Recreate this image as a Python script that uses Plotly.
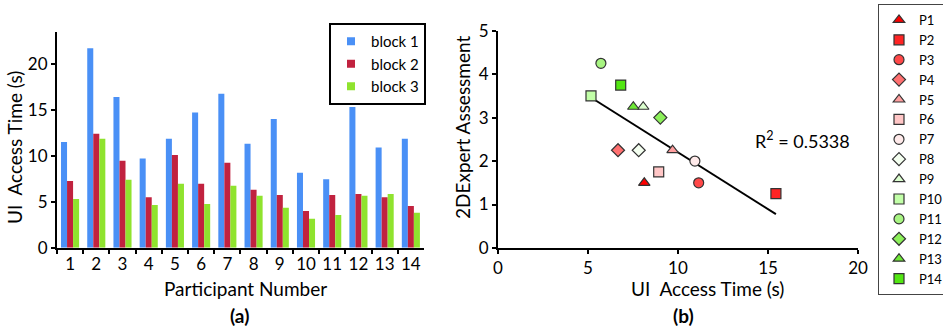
import numpy as np
import plotly.graph_objects as go

# ---------------- data ----------------
participants = [str(i) for i in range(1, 15)]
block1 = [11.5, 21.7, 16.4, 9.7, 11.85, 14.7, 16.75, 11.3, 14.0, 8.15, 7.45, 15.3, 10.9, 11.85]
block2 = [7.25, 12.4, 9.45, 5.5, 10.1, 6.95, 9.25, 6.3, 5.75, 4.0, 5.75, 5.85, 5.5, 4.55]
block3 = [5.3, 11.85, 7.4, 4.65, 6.95, 4.75, 6.75, 5.65, 4.35, 3.15, 3.55, 5.65, 5.85, 3.8]
block_names = ["block 1", "block 2", "block 3"]

p_labels = ["P%d" % i for i in range(1, 15)]
access_time = [8.13, 15.44, 11.15, 6.67, 9.7, 8.93, 10.94, 7.82, 8.07, 5.17, 5.72, 9.02, 7.52, 6.82]
expert_score = [1.5, 1.25, 1.5, 2.25, 2.25, 1.75, 2.0, 2.25, 3.25, 3.5, 4.25, 3.0, 3.25, 3.75]
r2_text = "R<sup>2</sup> = 0.5338"

bar_ticks = [0, 5, 10, 15, 20]

# ---------------- styles ----------------
block_colors = ["#4a90f6", "#c1223f", "#8fe32e"]
p_symbols = ["triangle-up", "square", "circle", "diamond"] * 4
p_colors = ["#ff0000", "#ff2424", "#ff4848", "#ff7070", "#ff9e9e", "#ffc6c6", "#ffeaea",
            "#f4fff0", "#dcffcf", "#c2ffa8", "#a8f582", "#8cf05a", "#6ee935", "#52e612"]
FONT = "Lato"

fig = go.Figure()

# regression line (least squares through the scatter data), drawn first so markers sit on top
ax = np.array(access_time)
ay = np.array(expert_score)
slope, intercept = np.polyfit(ax, ay, 1)
lx = np.array([ax.min(), ax.max()])
fig.add_trace(go.Scatter(x=lx, y=slope * lx + intercept, mode="lines", xaxis="x2", yaxis="y2",
                         line=dict(color="black", width=2), showlegend=False, hoverinfo="skip"))

for name, vals, col in zip(block_names, [block1, block2, block3], block_colors):
    fig.add_trace(go.Bar(x=participants, y=vals, name=name, marker=dict(color=col, line=dict(width=0)),
                         xaxis="x", yaxis="y", showlegend=False))
    # legend entry with a small square swatch
    fig.add_trace(go.Scatter(x=[None], y=[None], mode="markers", name=name, xaxis="x", yaxis="y",
                             marker=dict(symbol="square", size=8, color=col), legend="legend"))

for i in range(len(p_labels)):
    fig.add_trace(go.Scatter(x=[access_time[i]], y=[expert_score[i]], mode="markers", name=p_labels[i],
                             xaxis="x2", yaxis="y2", legend="legend2",
                             marker=dict(symbol=p_symbols[i], size=10, color=p_colors[i],
                                         line=dict(color="#333333", width=1.2))))

axis_common = dict(showline=True, linewidth=2, linecolor="black", ticks="outside", ticklen=4,
                   tickwidth=2, tickcolor="black", showgrid=False, zeroline=False,
                   tickfont=dict(size=17, family=FONT, color="black"))

fig.update_layout(
    width=943, height=329,
    margin=dict(l=0, r=0, t=0, b=0, autoexpand=False),
    plot_bgcolor="white", paper_bgcolor="white",
    font=dict(family=FONT, size=17, color="black"),
    barmode="group", bargap=0.31, bargroupgap=0,
    xaxis=dict(domain=[0.0604, 0.4496], anchor="y", type="category", tickson="boundaries",
               tickangle=0, automargin=False, **axis_common),
    yaxis=dict(domain=[0.247, 0.9036], anchor="x", range=[0, 23.5], tickvals=bar_ticks,
               automargin=False, **axis_common),
    xaxis2=dict(domain=[0.528, 0.9099], anchor="y2", range=[0, 20], dtick=5, tickangle=0,
                automargin=False, **axis_common),
    yaxis2=dict(domain=[0.2462, 0.9067], anchor="x2", range=[0, 5], dtick=1, automargin=False,
                **axis_common),
    legend=dict(x=426 / 943, y=(329 - 23) / 329, xanchor="right", yanchor="top", bordercolor="black",
                borderwidth=2, bgcolor="white", font=dict(size=15, family=FONT), itemwidth=30,
                tracegroupgap=0),
    legend2=dict(x=878 / 943, y=0.988, xanchor="left", yanchor="top", bordercolor="#444444", borderwidth=1,
                 bgcolor="white", font=dict(size=13, family=FONT), itemwidth=30,
                 tracegroupgap=0),
    showlegend=True,
)

ann = [
    dict(text="UI\u00a0 Access Time (s)", x=15 / 943, y=(329 - 148) / 329, textangle=-90, size=19),
    dict(text="2DExpert Assessment", x=462 / 943, y=(329 - 128) / 329, textangle=-90, size=19),
    dict(text="Participant Number", x=245 / 943, y=(329 - 288) / 329, textangle=0, size=19),
    dict(text="UI\u00a0 Access Time (s)", x=707 / 943, y=(329 - 288) / 329, textangle=0, size=19),
    dict(text="<b>(a)</b>", x=239 / 943, y=(329 - 315) / 329, textangle=0, size=19),
    dict(text="<b>(b)</b>", x=683 / 943, y=(329 - 315) / 329, textangle=0, size=19),
]
for a in ann:
    fig.add_annotation(text=a["text"], x=a["x"], y=a["y"], xref="paper", yref="paper",
                       xanchor="center", yanchor="middle", textangle=a["textangle"], showarrow=False,
                       font=dict(size=a["size"], family=FONT, color="black"))

fig.add_annotation(text=r2_text, x=14.17, y=2.48, xref="x2", yref="y2", xanchor="left", yanchor="middle",
                   showarrow=False, font=dict(size=18, family=FONT, color="black"))

fig.write_html("out.html", config={"displayModeBar": False},
               post_script="document.body.style.margin='0';document.body.style.overflow='hidden';")
